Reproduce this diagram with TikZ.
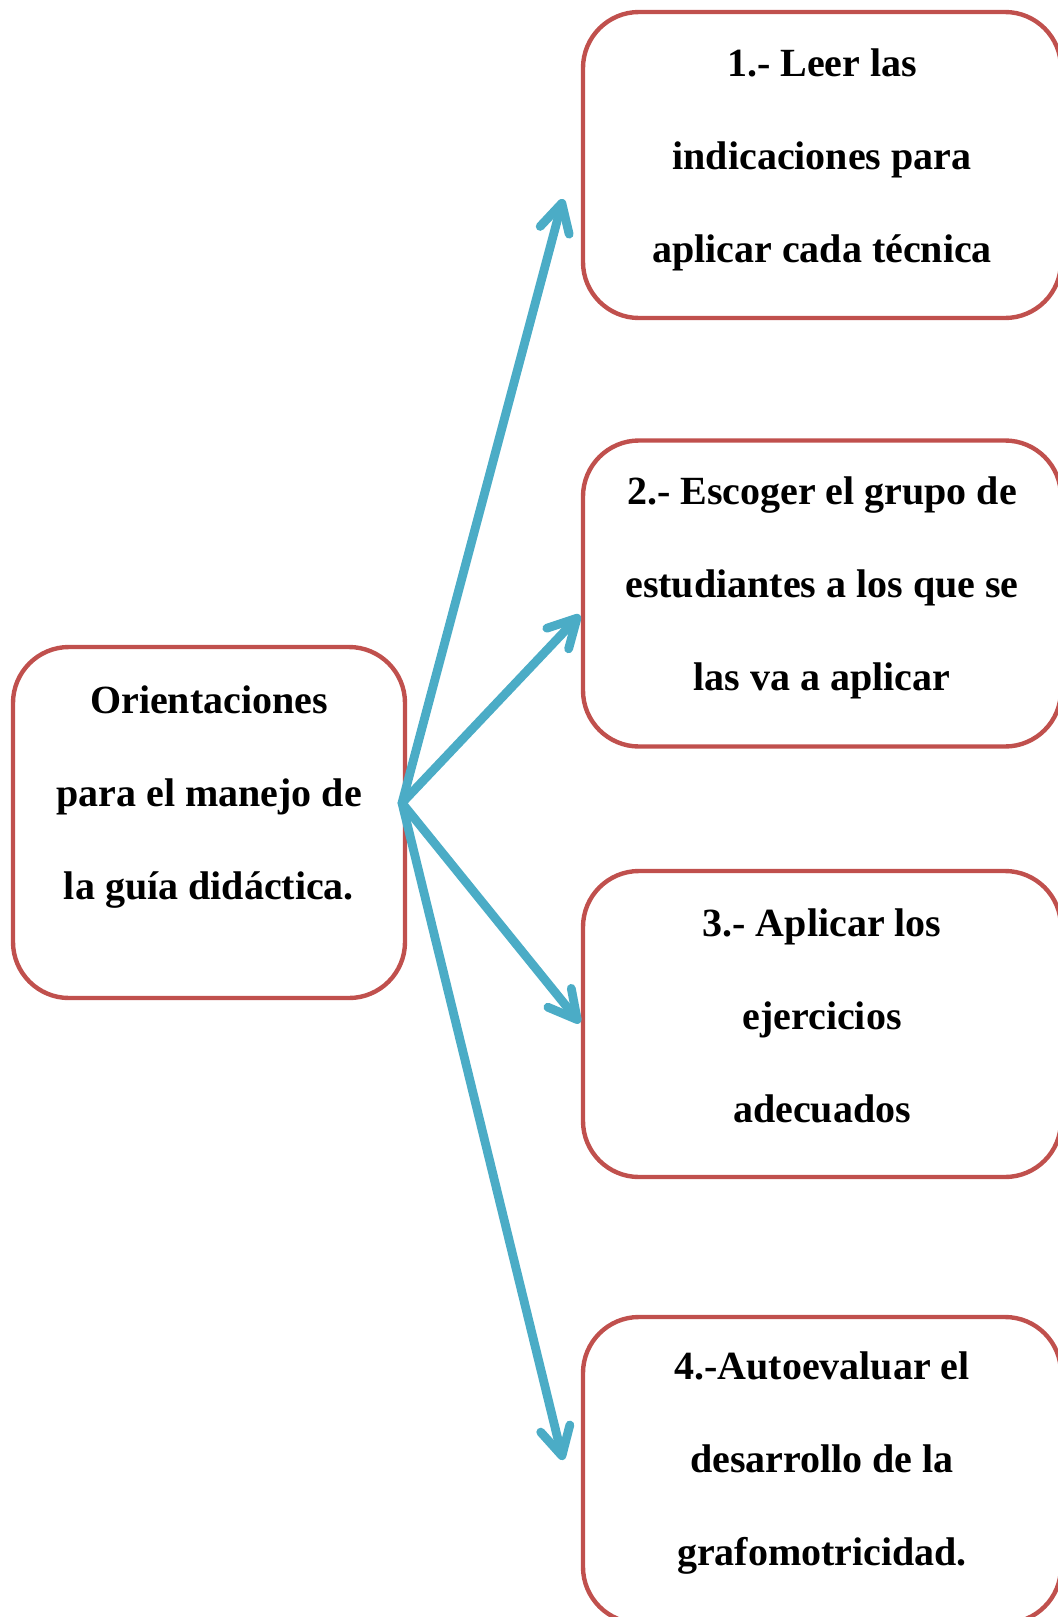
\documentclass[tikz,border=0pt]{standalone}
\usepackage{fontspec}
\setmainfont{Liberation Serif}
\usepackage{tikz}
\usetikzlibrary{arrows.meta}
\definecolor{boxred}{HTML}{C0504D}
\definecolor{arrowblue}{HTML}{4BACC6}
\tikzset{
  mapBox/.style={draw=boxred, line width=2.2pt, rounded corners=28pt,
    minimum width=239pt, minimum height=153pt},
  mapText/.style={align=center, font=\bfseries\fontsize{20}{46.5}\selectfont},
  mapArrow/.style={draw=arrowblue, line width=4.4pt, line cap=round,
    -{Straight Barb[length=14pt,width=15pt,line cap=round,line join=round]}}
}

\begin{document}
\begin{tikzpicture}[x=0.5pt,y=-0.5pt]
  \useasboundingbox (0,0) rectangle (1057,1617);

  % boxes
  \node[mapBox, minimum width=196pt, minimum height=175.5pt] (orient) at (209,822.5) {};
  \node[mapBox] (paso1) at (822,165) {};
  \node[mapBox] (paso2) at (822,593.5) {};
  \node[mapBox] (paso3) at (822,1024) {};
  \node[mapBox] (paso4) at (822,1470) {};

  % texts
  \node[mapText] (orientTxt) at (209,797) {Orientaciones\\para el manejo de\\la guía didáctica.};
  \node[mapText] (paso1Txt) at (822,160) {1.- Leer las\\indicaciones para\\aplicar cada técnica};
  \node[mapText] (paso2Txt) at (822,588) {2.- Escoger el grupo de\\estudiantes a los que se\\las va a aplicar};
  \node[mapText] (paso3Txt) at (822,1016) {3.- Aplicar los\\ejercicios\\adecuados};
  \node[mapText] (paso4Txt) at (822,1463) {4.-Autoevaluar el\\desarrollo de la\\grafomotricidad.};

  % arrows
  \coordinate (hub) at (402,803);
  \coordinate (tip1) at (563,199);
  \coordinate (tip2) at (580,615);
  \coordinate (tip3) at (580,1023);
  \coordinate (tip4) at (563,1460);
  \foreach \i in {1,...,4}
    \draw[mapArrow] (hub) -- (tip\i);
\end{tikzpicture}
\end{document}
